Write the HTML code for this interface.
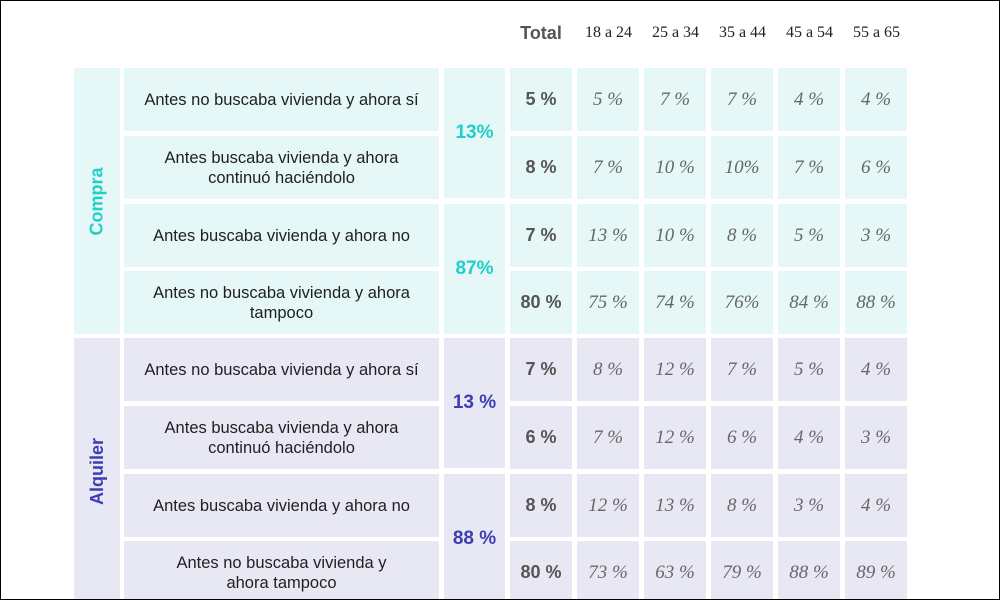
<!DOCTYPE html>
<html><head><meta charset="utf-8"><style>
html,body{margin:0;padding:0;background:#fff}
#frame{position:relative;width:1000px;height:600px;box-sizing:border-box;border:1px solid #000;overflow:hidden;font-family:"Liberation Sans",sans-serif}
.c{position:absolute;display:flex;align-items:center;justify-content:center;text-align:center;box-sizing:border-box}
.desc{font-size:16.5px;color:#1f1f1f;line-height:20px}
.tot{font-weight:bold;font-size:18px;color:#555}
.val{font-family:"Liberation Serif",serif;font-style:italic;font-size:19px;color:#666}
.sub{font-size:19px;font-weight:bold}
.grp{font-size:18px;font-weight:bold}
.hd{position:absolute;top:20px;height:24px;display:flex;align-items:center;justify-content:center;font-family:"Liberation Serif",serif;font-size:16px;color:#222}
</style></head><body>
<div id="frame"></div>
<script>
const ageGroups=["18 a 24","25 a 34","35 a 44","45 a 54","55 a 65"];
const descriptions=["Antes no buscaba vivienda y ahora sí","Antes buscaba vivienda y ahora<br>continuó haciéndolo","Antes buscaba vivienda y ahora no","Antes no buscaba vivienda y ahora<br>tampoco"];
const descriptionsAlq=["Antes no buscaba vivienda y ahora sí","Antes buscaba vivienda y ahora<br>continuó haciéndolo","Antes buscaba vivienda y ahora no","Antes no buscaba vivienda y<br>ahora tampoco"];
const compraSub=["13%","87%"];
const alquilerSub=["13 %","88 %"];
const compraTotal=["5 %","8 %","7 %","80 %"];
const alquilerTotal=["7 %","6 %","8 %","80 %"];
const compraVals=[["5 %","7 %","7 %","4 %","4 %"],["7 %","10 %","10%","7 %","6 %"],["13 %","10 %","8 %","5 %","3 %"],["75 %","74 %","76%","84 %","88 %"]];
const alquilerVals=[["8 %","12 %","7 %","5 %","4 %"],["7 %","12 %","6 %","4 %","3 %"],["12 %","13 %","8 %","3 %","4 %"],["73 %","63 %","79 %","88 %","89 %"]];

const F=document.getElementById('frame');
function cell(x,y,w,h,cls,html,bg,color){
  const d=document.createElement('div');
  d.className='c '+cls;
  d.style.left=x+'px';d.style.top=y+'px';d.style.width=w+'px';d.style.height=h+'px';
  if(bg)d.style.background=bg;
  if(color)d.style.color=color;
  d.innerHTML=html;
  F.appendChild(d);return d;
}
const th=document.createElement('div');th.className='hd';th.style.left='509px';th.style.width='62px';
th.style.fontFamily='"Liberation Sans",sans-serif';th.style.fontWeight='bold';th.style.fontSize='18px';th.style.color='#555';th.textContent='Total';


F.appendChild(th);
const colX=[576,643,710,777,844];
ageGroups.forEach((a,i)=>{
  const h=document.createElement('div');h.className='hd';h.style.left=colX[i]+'px';h.style.width='63px';h.textContent=a;
  
  
  F.appendChild(h);
});
const groups=[
 {name:'Compra',y0:67,bg:'#e5f7f7',color:'#1fd0c8',desc:descriptions,sub:compraSub,tot:compraTotal,vals:compraVals},
 {name:'Alquiler',y0:337,bg:'#e8e8f5',color:'#3d3db5',desc:descriptionsAlq,sub:alquilerSub,tot:alquilerTotal,vals:alquilerVals}
];
const rowOff=[0,68,136,203];const rowH=63;
groups.forEach(g=>{
  const gl=cell(73,g.y0,46,266,'grp','<span style="transform:rotate(-90deg);white-space:nowrap;display:inline-block">'+g.name+'</span>',g.bg,g.color);
  
  
  g.sub.forEach((s,k)=>{
    const sc=cell(443,g.y0+k*136,61,130,'sub',s,g.bg,g.color);
    
    
  });
  g.desc.forEach((d,r)=>{
    const y=g.y0+rowOff[r];
    const dc=cell(123,y,315,rowH,'desc',d,g.bg);
    
    
    const tc=cell(509,y,62,rowH,'tot',g.tot[r],g.bg);
    
    
    g.vals[r].forEach((v,c)=>{
      const vc=cell(colX[c],y,62,rowH,'val',v,g.bg);
      
      
    });
  });
});
</script>
</body></html>
